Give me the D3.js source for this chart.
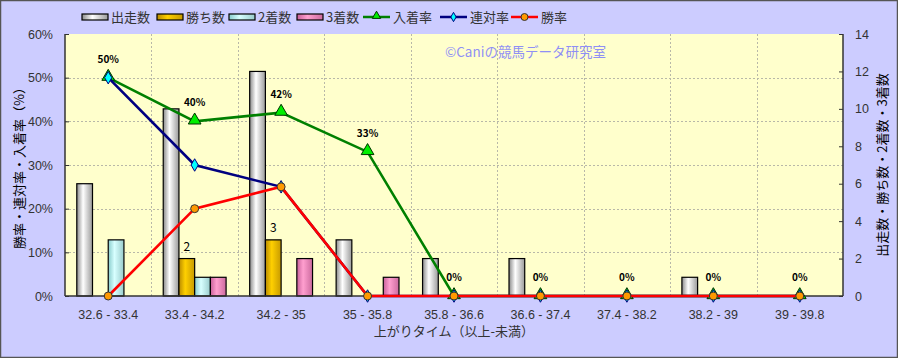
<!DOCTYPE html>
<html><head><meta charset="utf-8">
<script src="https://cdn.jsdelivr.net/npm/d3@7"></script>
<style>
html,body{margin:0;padding:0;background:#CCCCFF;}
svg{display:block;font-family:"Noto Sans CJK JP","Noto Sans",sans-serif;}
</style></head>
<body>
<svg id="c" width="898" height="358"></svg>
<script>
const categories = ["32.6 - 33.4","33.4 - 34.2","34.2 - 35","35 - 35.8","35.8 - 36.6","36.6 - 37.4","37.4 - 38.2","38.2 - 39","39 - 39.8"];
const runs   = [6,10,12,3,2,2,0,1,0];
const wins   = [0,2,3,0,0,0,0,0,0];
const second = [3,1,0,0,0,0,0,0,0];
const third  = [0,1,2,1,0,0,0,0,0];
const placeRate = [0.50,0.40,0.42,0.33,0,0,0,0,0];
const rentaiRate = [0.50,0.30,0.25,0,0,0,0,0,0];
const winRate = [0,0.20,0.25,0,0,0,0,0,0];
const leftTicks = [0,0.1,0.2,0.3,0.4,0.5,0.6];
const rightTicks = [0,2,4,6,8,10,12,14];
const placeLabels = ["50%","40%","42%","33%","0%","0%","0%","0%","0%"];

const svg = d3.select("#c");
const W=898,H=358;
const m = {l:65,r:843,t:34,b:296};

svg.append("rect").attr("x",0.5).attr("y",0.5).attr("width",W-1).attr("height",H-1).attr("fill","#CCCCFF").attr("stroke","#555").attr("stroke-width",1.5);

const defs = svg.append("defs");
function grad(id, c1, c2, c3){
  const g = defs.append("linearGradient").attr("id",id).attr("x1","0").attr("x2","1").attr("y1","0").attr("y2","0");
  g.append("stop").attr("offset","0").attr("stop-color",c1);
  g.append("stop").attr("offset","0.4").attr("stop-color",c2);
  g.append("stop").attr("offset","1").attr("stop-color",c3);
}
grad("gS","#8a8a8a","#ffffff","#9a9a9a");
grad("gW","#b88a00","#ffd000","#c79a00");
grad("gC","#88cccc","#d8ffff","#99cccc");
grad("gP","#c8609a","#ff9fcf","#cc6a9e");

const x = d3.scaleBand().domain(categories).range([m.l,m.r]).padding(0);
const yL = d3.scaleLinear().domain([0,0.6]).range([m.b,m.t]);
const yR = d3.scaleLinear().domain([0,14]).range([m.b,m.t]);

svg.append("rect").attr("x",m.l).attr("y",m.t).attr("width",m.r-m.l).attr("height",m.b-m.t).attr("fill","#FFFFCC");

// grid
const grid = svg.append("g").attr("stroke","#b8b8a8").attr("stroke-dasharray","2,2").attr("stroke-width",1);
leftTicks.slice(1,-1).forEach(t=>grid.append("line").attr("x1",m.l).attr("x2",m.r).attr("y1",Math.round(yL(t))+0.5).attr("y2",Math.round(yL(t))+0.5));
categories.slice(1).forEach(c=>grid.append("line").attr("x1",Math.round(x(c))+0.5).attr("x2",Math.round(x(c))+0.5).attr("y1",m.t).attr("y2",m.b));

svg.append("text").attr("x",445).attr("y",57).attr("fill","#8f8ff5").attr("font-size",13.5).text("©Caniの競馬データ研究室");

// bars
const seriesNames = ["runs","wins","second","third"];
const seriesData = {runs, wins, second, third};
const fills = {runs:"url(#gS)",wins:"url(#gW)",second:"url(#gC)",third:"url(#gP)"};
const xs = d3.scaleBand().domain(seriesNames).range([0,x.bandwidth()]).paddingInner(0).paddingOuter(0.75);
seriesNames.forEach(s=>{
  svg.append("g").selectAll("rect").data(categories.map((c,i)=>({c,v:seriesData[s][i]})).filter(d=>d.v>0))
    .join("rect")
    .attr("x",d=>x(d.c)+xs(s)).attr("width",xs.bandwidth())
    .attr("y",d=>yR(d.v)).attr("height",d=>yR(0)-yR(d.v))
    .attr("fill",fills[s]).attr("stroke","#000").attr("stroke-width",1.2);
});
// labels for wins
svg.append("g").selectAll("text").data(categories.map((c,i)=>({c,v:wins[i]})).filter(d=>d.v>0))
  .join("text").attr("x",d=>x(d.c)+xs("wins")+xs.bandwidth()/2).attr("y",d=>yR(d.v)-8)
  .attr("text-anchor","middle").attr("font-size",12).attr("fill","#000").text(d=>d.v);

// axes frame
svg.append("line").attr("x1",m.l).attr("x2",m.l).attr("y1",m.t).attr("y2",m.b).attr("stroke","#333").attr("stroke-width",1.5);
svg.append("line").attr("x1",m.r).attr("x2",m.r).attr("y1",m.t).attr("y2",m.b).attr("stroke","#333").attr("stroke-width",1.5);
svg.append("line").attr("x1",m.l).attr("x2",m.r).attr("y1",m.b).attr("y2",m.b).attr("stroke","#333").attr("stroke-width",1.5);

// lines
const cx = c=>x(c)+x.bandwidth()/2;
function drawLine(vals,color){
  const line = d3.line().x((d,i)=>cx(categories[i])).y(d=>yL(d));
  svg.append("path").datum(vals).attr("d",line).attr("fill","none").attr("stroke",color).attr("stroke-width",2.6);
}
drawLine(placeRate,"#008000");
svg.append("g").selectAll("path").data(placeRate).join("path")
  .attr("d",d3.symbol(d3.symbolTriangle,70)())
  .attr("transform",(d,i)=>`translate(${cx(categories[i])},${yL(d)-1})`)
  .attr("fill","#00ee00").attr("stroke","#003300").attr("stroke-width",1);
drawLine(rentaiRate,"#000080");
svg.append("g").selectAll("path").data(rentaiRate).join("path")
  .attr("d",d3.symbol(d3.symbolDiamond,45)())
  .attr("transform",(d,i)=>`translate(${cx(categories[i])},${yL(d)})`)
  .attr("fill","#00FFFF").attr("stroke","#000080").attr("stroke-width",1);
drawLine(winRate,"#FF0000");
svg.append("g").selectAll("circle").data(winRate).join("circle")
  .attr("cx",(d,i)=>cx(categories[i])).attr("cy",d=>yL(d)).attr("r",4)
  .attr("fill","#FF9900").attr("stroke","#333").attr("stroke-width",1);

svg.append("g").selectAll("text").data(placeRate).join("text")
  .attr("x",(d,i)=>cx(categories[i])).attr("y",d=>yL(d)-15)
  .attr("text-anchor","middle").attr("font-size",10).attr("font-weight","bold").attr("fill","#000")
  .text((d,i)=>placeLabels[i]);

// left axis
const ax = d3.axisLeft(yL).tickValues(leftTicks).tickFormat(d3.format(".0%")).tickSize(-4).tickPadding(12);
const gL = svg.append("g").attr("transform",`translate(${m.l},0)`).call(ax);
gL.select(".domain").remove();
gL.selectAll("line").attr("stroke","#333");
gL.selectAll("text").attr("font-size",12.5).attr("fill","#333").attr("font-family","Liberation Sans, Arial, sans-serif");
const aR = d3.axisRight(yR).tickValues(rightTicks).tickSize(-4).tickPadding(12);
const gR = svg.append("g").attr("transform",`translate(${m.r},0)`).call(aR);
gR.select(".domain").remove();
gR.selectAll("line").attr("stroke","#333");
gR.selectAll("text").attr("font-size",12.5).attr("fill","#333").attr("font-family","Liberation Sans, Arial, sans-serif");
const aB = d3.axisBottom(x).tickSize(0).tickPadding(14);
const gB = svg.append("g").attr("transform",`translate(0,${m.b})`).call(aB);
gB.select(".domain").remove();
gB.selectAll("text").attr("font-size",12.5).attr("fill","#333").attr("font-family","Liberation Sans, Arial, sans-serif");

// titles
svg.append("text").attr("transform","translate(24,165) rotate(-90)").attr("text-anchor","middle").attr("font-size",13).attr("fill","#000").text("勝率・連対率・入着率（%）");
svg.append("text").attr("transform","translate(887,165) rotate(-90)").attr("text-anchor","middle").attr("font-size",13).attr("fill","#000").text("出走数・勝ち数・2着数・3着数");
svg.append("text").attr("x",454).attr("y",336).attr("text-anchor","middle").attr("font-size",13).attr("fill","#333").text("上がりタイム（以上-未満）");

// legend
const lg = svg.append("g").attr("font-size",13).attr("fill","#333");
const legBars = [["出走数","url(#gS)",82],["勝ち数","url(#gW)",157],["2着数","url(#gC)",229],["3着数","url(#gP)",297]];
legBars.forEach(([t,f,lx])=>{
  lg.append("rect").attr("x",lx).attr("y",14).attr("width",26).attr("height",6).attr("fill",f).attr("stroke","#000").attr("stroke-width",1.2);
  lg.append("text").attr("x",lx+29).attr("y",22).text(t);
});
const legLines = [["入着率","#008000",363,"tri"],["連対率","#000080",440,"dia"],["勝率","#FF0000",511,"cir"]];
legLines.forEach(([t,col,lx,mk])=>{
  lg.append("line").attr("x1",lx).attr("x2",lx+27).attr("y1",17).attr("y2",17).attr("stroke",col).attr("stroke-width",2.5);
  const mx = lx+13.5;
  if(mk==="tri") lg.append("path").attr("d",d3.symbol(d3.symbolTriangle,30)()).attr("transform",`translate(${mx},16)`).attr("fill","#00ee00").attr("stroke","#003300");
  if(mk==="dia") lg.append("path").attr("d",d3.symbol(d3.symbolDiamond,25)()).attr("transform",`translate(${mx},17)`).attr("fill","#00FFFF").attr("stroke","#000080");
  if(mk==="cir") lg.append("circle").attr("cx",mx).attr("cy",17).attr("r",3.5).attr("fill","#FF9900").attr("stroke","#333");
  lg.append("text").attr("x",lx+30).attr("y",22).text(t);
});
</script>
</body></html>
